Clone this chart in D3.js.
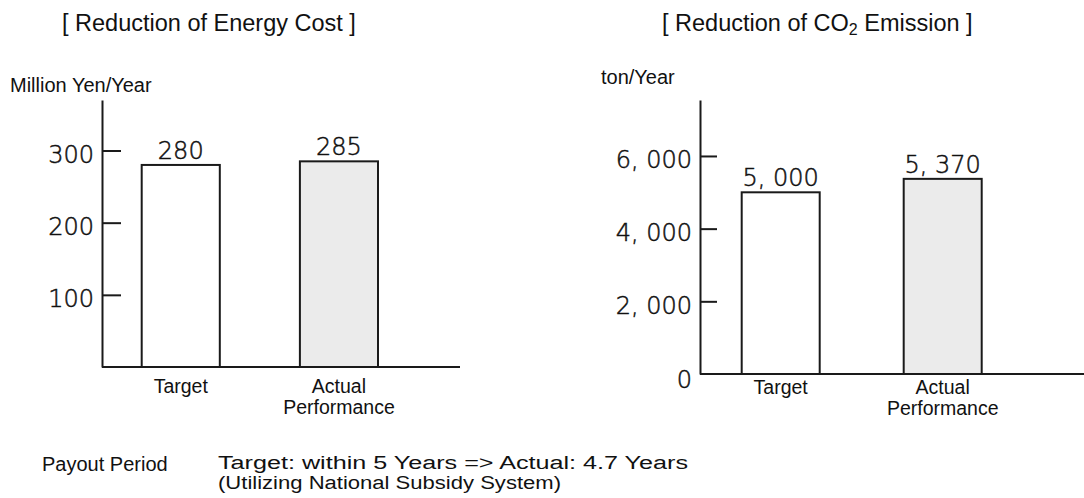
<!DOCTYPE html>
<html><head><meta charset="utf-8">
<script src="https://cdn.jsdelivr.net/npm/d3@7/dist/d3.min.js"></script>
<style>html,body{margin:0;padding:0;background:#fff;} svg{display:block;}</style>
</head><body><svg id="c" width="1084" height="498"></svg>
<script>
// ---- data ----
const categories = ["Target", "Actual Performance"];
const categoryLines = [["Target"], ["Actual", "Performance"]];
const costValues = [280, 285];
const costValueLabels = ["280", "285"];
const costTicks = [100, 200, 300];
const costTickLabels = ["100", "200", "300"];
const co2Values = [5000, 5370];
const co2ValueLabels = ["5, 000", "5, 370"];
const co2Ticks = [0, 2000, 4000, 6000];
const co2TickLabels = ["0", "2, 000", "4, 000", "6, 000"];
const barFills = ["#ffffff", "#ebebeb"];

const svg = d3.select("#c");
const TXT = "'Liberation Sans', Arial, sans-serif";
const NUM = "'DejaVu Sans', sans-serif";
const INK = "#1a1a1a";

function numStyle(sel) {
  sel.attr("font-family", NUM).attr("font-size", 24).attr("font-weight", 200)
    .attr("fill", "#111").attr("stroke", "#111").attr("stroke-width", 0.5);
}

function drawChart(o) {
  const g = svg.append("g");
  const y = d3.scaleLinear().domain(o.domain).range([o.base, o.top]);
  const x = d3.scaleBand().domain(categories).range(o.xr).paddingInner(o.pi).paddingOuter(0);

  // axis
  const axis = d3.axisLeft(y).tickValues(o.ticks)
    .tickFormat((d, i) => o.tickLabels[i])
    .tickSizeInner(-o.tickLen).tickSizeOuter(0).tickPadding(8);
  const ag = g.append("g").attr("transform", `translate(${o.axisX},0)`).call(axis);
  ag.select(".domain").attr("stroke", INK).attr("stroke-width", 2);
  ag.selectAll(".tick line").attr("stroke", INK).attr("stroke-width", 2)
    .filter(d => d === 0).remove();
  ag.selectAll(".tick text").call(numStyle)
    .attr("dy", d => d === 0 ? "0.55em" : "0.5em");

  // baseline
  g.append("line").attr("x1", o.axisX).attr("x2", o.baseEnd)
    .attr("y1", y(0)).attr("y2", y(0)).attr("stroke", INK).attr("stroke-width", 2);

  // bars
  g.selectAll("rect.bar").data(o.values).enter().append("rect")
    .attr("class", "bar")
    .attr("x", (d, i) => x(categories[i]))
    .attr("width", x.bandwidth())
    .attr("y", d => y(d))
    .attr("height", d => y(0) - y(d))
    .attr("fill", (d, i) => barFills[i])
    .attr("stroke", INK).attr("stroke-width", 2);

  // value labels
  g.selectAll("text.val").data(o.values).enter().append("text")
    .attr("class", "val")
    .attr("x", (d, i) => x(categories[i]) + x.bandwidth() / 2)
    .attr("y", d => y(d) - 6)
    .attr("text-anchor", "middle")
    .call(numStyle)
    .text((d, i) => o.valueLabels[i]);

  // category labels
  categories.forEach((c, i) => {
    const t = g.append("text")
      .attr("x", x(c) + x.bandwidth() / 2)
      .attr("y", y(0) + o.catDy)
      .attr("text-anchor", "middle")
      .attr("font-family", TXT).attr("font-size", 19.5).attr("fill", "#111");
    categoryLines[i].forEach((ln, j) => {
      t.append("tspan").attr("x", x(c) + x.bandwidth() / 2)
        .attr("dy", j === 0 ? 0 : 21).text(ln);
    });
  });

  // unit label
  g.append("text").attr("x", o.unitX).attr("y", o.unitY)
    .attr("font-family", TXT).attr("font-size", 20).attr("fill", "#111")
    .text(o.unit);
}

drawChart({
  domain: [0, 370], base: 367, top: 100, axisX: 102, baseEnd: 460,
  xr: [141.7, 378], pi: 0.5063, ticks: costTicks, tickLabels: costTickLabels,
  tickLen: 19, values: costValues, valueLabels: costValueLabels,
  catDy: 26, unit: "Million Yen/Year", unitX: 10, unitY: 92
});
drawChart({
  domain: [0, 7540], base: 374, top: 100, axisX: 700, baseEnd: 1084,
  xr: [741.7, 981.7], pi: 0.5185, ticks: co2Ticks, tickLabels: co2TickLabels,
  tickLen: 17, values: co2Values, valueLabels: co2ValueLabels,
  catDy: 20, unit: "ton/Year", unitX: 601, unitY: 84
});

// titles
svg.append("text").attr("x", 62).attr("y", 31)
  .attr("font-family", TXT).attr("font-size", 23.5).attr("fill", "#111")
  .text("[ Reduction of Energy Cost ]");
const t2 = svg.append("text").attr("x", 662).attr("y", 31)
  .attr("font-family", TXT).attr("font-size", 23.5).attr("fill", "#111");
t2.append("tspan").text("[ Reduction of CO");
t2.append("tspan").attr("font-size", 16).attr("dy", 4).text("2");
t2.append("tspan").attr("dy", -4).text(" Emission ]");

// payout text
const foot = svg.append("g").attr("font-family", TXT).attr("fill", "#111");
foot.append("text").attr("x", 42).attr("y", 471).attr("font-size", 20).text("Payout Period");
foot.append("text").attr("x", 218).attr("y", 469).attr("font-size", 18)
  .attr("textLength", 470).attr("lengthAdjust", "spacingAndGlyphs")
  .text("Target: within 5 Years => Actual: 4.7 Years");
foot.append("text").attr("x", 218).attr("y", 489).attr("font-size", 18)
  .attr("textLength", 343).attr("lengthAdjust", "spacingAndGlyphs")
  .text("(Utilizing National Subsidy System)");
</script></body></html>
